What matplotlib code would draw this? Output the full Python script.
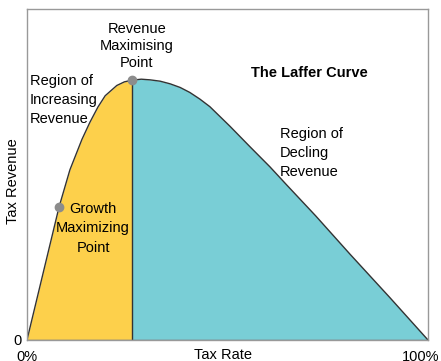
import numpy as np
import matplotlib
matplotlib.use("Agg")
import matplotlib.pyplot as plt
from matplotlib.transforms import ScaledTranslation

plt.rcParams['font.family'] = ['Liberation Sans', 'DejaVu Sans']

# curve (tax rate %, revenue in axis units 0-100)
tax_rate = [0, 4, 8.0, 10.7, 13.7, 15.7, 17.7, 19.5, 22.4, 24.3, 26.2, 28.5,
            30.7, 33.2, 35.7, 38.2, 40.6, 43.1, 45.6, 50.6, 55.6, 60.6, 64.8,
            72, 80.5, 90.5, 100]
revenue = [0, 20.1, 40.2, 51.4, 60.6, 65.8, 70.4, 73.8, 76.9, 78.0, 78.5, 78.8,
           78.6, 78.2, 77.4, 76.3, 74.8, 72.8, 70.5, 64.6, 58.4, 52.3, 46.8,
           37.5, 26.0, 12.8, 0]

peak_rate, peak_rev = 26.2, 78.5
growth_rate, growth_rev = 8.0, 40.2

yellow = '#fdd04b'
cyan = '#79ced6'
line_col = '#333333'
frame_col = '#999999'

x = np.array(tax_rate)
y = np.array(revenue)

fig = plt.figure(figsize=(4.41, 3.61), dpi=100)
ax = fig.add_axes([0.0612, 0.0582, 0.9093, 0.9168])

ax.fill_between(x, y, where=x <= peak_rate, color=yellow, lw=0)
ax.fill_between(x, y, where=x >= peak_rate, color=cyan, lw=0)
ax.plot(x, y, color=line_col, lw=1.0)
ax.plot([peak_rate, peak_rate], [0, peak_rev], color=line_col, lw=1.0)
ax.plot([0, 100], [0, 0], color='#666666', lw=1.0)

ax.plot([peak_rate], [peak_rev], 'o', color='#8c8c8c', ms=6, zorder=5)
ax.plot([growth_rate], [growth_rev], 'o', color='#8c8c8c', ms=6, zorder=5)

ax.set_xlim(0, 100)
ax.set_ylim(0, 100)

ax.set_xticks([0, 100])
ax.set_xticklabels(['0%', '100%'])
ax.set_yticks([0])
ax.set_yticklabels(['0'])
ax.tick_params(length=0, labelsize=10.5)
ax.tick_params(axis='x', pad=7)
ax.tick_params(axis='y', pad=4)
# nudge the right label in a little so it stays on the canvas
lab = ax.get_xticklabels()[1]
lab.set_transform(lab.get_transform() + ScaledTranslation(-7 / 100, 0, fig.dpi_scale_trans))

ax.set_xlabel('Tax Rate', fontsize=10.5)
ax.xaxis.set_label_coords(0.49, -0.025)
ax.xaxis.label.set_va('top')
ax.set_ylabel('Tax Revenue', fontsize=10.5)
ax.yaxis.set_label_coords(-0.018, 0.48)

for s in ax.spines.values():
    s.set_color(frame_col)
    s.set_linewidth(1.0)

fs = 10.5
ax.text(27.4, 88.8, 'Revenue\nMaximising\nPoint', ha='center', va='center',
        fontsize=fs, linespacing=1.25)
ax.text(0.75, 72.5, 'Region of\nIncreasing\nRevenue', ha='left', va='center',
        fontsize=fs, linespacing=1.45)
ax.text(70.3, 80.7, 'The Laffer Curve', ha='center', va='center',
        fontsize=fs, fontweight='bold')
ax.text(63.1, 56.5, 'Region of\nDecling\nRevenue', ha='left', va='center',
        fontsize=fs, linespacing=1.45)
ax.text(16.5, 33.8, 'Growth\nMaximizing\nPoint', ha='center', va='center',
        fontsize=fs, linespacing=1.5)

fig.savefig('out.png', dpi=100)
